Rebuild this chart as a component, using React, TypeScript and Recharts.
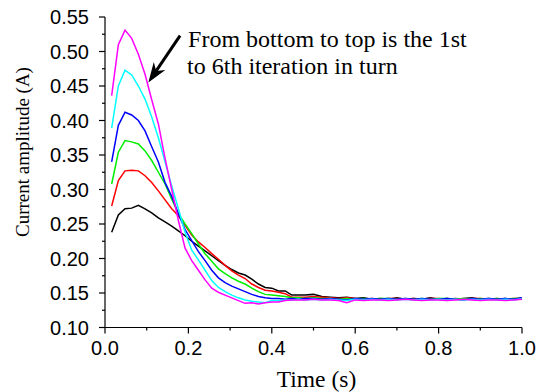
import React from 'react'
import { LineChart, Line, XAxis, YAxis, ReferenceLine } from 'recharts'

// time axis (s)
const times = [
  0.016, 0.032, 0.048, 0.064, 0.08, 0.096, 0.112, 0.128, 0.144, 0.16,
  0.176, 0.192, 0.208, 0.224, 0.24, 0.256, 0.272, 0.288, 0.304, 0.32,
  0.336, 0.352, 0.368, 0.384, 0.4, 0.416, 0.432, 0.448, 0.464, 0.48,
  0.5, 0.52, 0.54, 0.56, 0.58, 0.6, 0.62, 0.64, 0.66, 0.68,
  0.7, 0.72, 0.74, 0.76, 0.78, 0.8, 0.82, 0.84, 0.86, 0.88,
  0.9, 0.92, 0.94, 0.96, 0.98, 1.0,
]

// current amplitude (A), 1st to 6th iteration
const iter1 = [
  0.238, 0.263, 0.272, 0.273, 0.277, 0.272, 0.266, 0.259, 0.253, 0.247,
  0.240, 0.233, 0.225, 0.218, 0.211, 0.204, 0.197, 0.190, 0.184, 0.179,
  0.176, 0.170, 0.163, 0.158, 0.157, 0.153, 0.153, 0.147, 0.147, 0.147,
  0.148, 0.145, 0.144, 0.143, 0.144, 0.142, 0.143, 0.141, 0.142, 0.141,
  0.143, 0.141, 0.142, 0.141, 0.143, 0.141, 0.142, 0.141, 0.142, 0.143,
  0.141, 0.142, 0.141, 0.142, 0.141, 0.143,
]
const iter2 = [
  0.276, 0.313, 0.327, 0.328, 0.327, 0.320, 0.310, 0.298, 0.285, 0.272,
  0.262, 0.248, 0.234, 0.224, 0.216, 0.207, 0.199, 0.190, 0.182, 0.176,
  0.171, 0.163, 0.158, 0.154, 0.153, 0.151, 0.149, 0.144, 0.144, 0.144,
  0.145, 0.144, 0.143, 0.142, 0.143, 0.142, 0.141, 0.142, 0.141, 0.142,
  0.142, 0.141, 0.142, 0.141, 0.142, 0.142, 0.141, 0.142, 0.141, 0.142,
  0.142, 0.141, 0.142, 0.141, 0.142, 0.142,
]
const iter3 = [
  0.308, 0.354, 0.371, 0.369, 0.366, 0.356, 0.342, 0.325, 0.308, 0.286,
  0.265, 0.250, 0.236, 0.221, 0.207, 0.196, 0.185, 0.178, 0.172, 0.167,
  0.163, 0.157, 0.152, 0.148, 0.147, 0.146, 0.145, 0.143, 0.143, 0.142,
  0.143, 0.142, 0.142, 0.141, 0.142, 0.141, 0.142, 0.141, 0.142, 0.142,
  0.141, 0.142, 0.141, 0.142, 0.141, 0.142, 0.142, 0.141, 0.142, 0.141,
  0.142, 0.141, 0.142, 0.141, 0.142, 0.142,
]
const iter4 = [
  0.340, 0.393, 0.412, 0.408, 0.400, 0.385, 0.362, 0.340, 0.310, 0.290,
  0.265, 0.242, 0.226, 0.210, 0.197, 0.183, 0.172, 0.165, 0.160, 0.156,
  0.152, 0.148, 0.145, 0.143, 0.142, 0.142, 0.141, 0.142, 0.141, 0.142,
  0.142, 0.141, 0.142, 0.141, 0.140, 0.142, 0.141, 0.142, 0.141, 0.142,
  0.141, 0.142, 0.141, 0.142, 0.141, 0.141, 0.142, 0.141, 0.140, 0.142,
  0.141, 0.142, 0.141, 0.142, 0.141, 0.143,
]
const iter5 = [
  0.389, 0.450, 0.473, 0.466, 0.450, 0.431, 0.405, 0.375, 0.340, 0.305,
  0.272, 0.238, 0.212, 0.198, 0.183, 0.168, 0.158, 0.152, 0.147, 0.143,
  0.140, 0.138, 0.137, 0.136, 0.139, 0.139, 0.140, 0.140, 0.141, 0.140,
  0.141, 0.140, 0.141, 0.140, 0.139, 0.141, 0.140, 0.141, 0.140, 0.141,
  0.140, 0.141, 0.140, 0.141, 0.140, 0.141, 0.140, 0.141, 0.140, 0.141,
  0.140, 0.141, 0.140, 0.141, 0.140, 0.142,
]
const iter6 = [
  0.436, 0.510, 0.531, 0.519, 0.496, 0.467, 0.430, 0.395, 0.345, 0.300,
  0.255, 0.215, 0.197, 0.183, 0.169, 0.157, 0.151, 0.147, 0.143, 0.139,
  0.135, 0.136, 0.134, 0.136, 0.137, 0.137, 0.139, 0.140, 0.140, 0.140,
  0.141, 0.140, 0.140, 0.139, 0.136, 0.140, 0.139, 0.140, 0.140, 0.139,
  0.140, 0.141, 0.140, 0.139, 0.140, 0.140, 0.139, 0.140, 0.141, 0.140,
  0.139, 0.140, 0.140, 0.139, 0.140, 0.141,
]

const seriesKeys = ['i1', 'i2', 'i3', 'i4', 'i5', 'i6']
const seriesColors = ['#000000', '#ff0000', '#00ee00', '#0000ff', '#00ffff', '#ff00ff']

// major ticks get a label, the rest are minor
const xTicks = [0, 0.1, 0.2, 0.3, 0.4, 0.5, 0.6, 0.7, 0.8, 0.9, 1.0]
const xMajor = [0, 0.2, 0.4, 0.6, 0.8, 1.0]
const yTicks = [0.1, 0.125, 0.15, 0.175, 0.2, 0.225, 0.25, 0.275, 0.3, 0.325, 0.35, 0.375, 0.4, 0.425, 0.45, 0.475, 0.5, 0.525, 0.55]
const yMajor = [0.1, 0.15, 0.2, 0.25, 0.3, 0.35, 0.4, 0.45, 0.5, 0.55]

const noteLines = ['From bottom to top is the 1st', 'to 6th iteration in turn']
const arrowFrom = { x: 0.18, y: 0.523 }
const arrowTo = { x: 0.104, y: 0.455 }

const data = times.map((t, i) => ({
  t,
  i1: iter1[i],
  i2: iter2[i],
  i3: iter3[i],
  i4: iter4[i],
  i5: iter5[i],
  i6: iter6[i],
}))

const serif = '"Liberation Serif", "Times New Roman", serif'
const sans = '"Liberation Sans", Arial, sans-serif'

const isMajor = (list: number[], v: number) => list.some((m) => Math.abs(m - v) < 1e-6)

function XTick(props: any) {
  const { x, y, payload } = props
  const major = isMajor(xMajor, payload.value)
  return (
    <g>
      <line x1={x} y1={y} x2={x} y2={y + (major ? 6 : 3)} stroke="#000" strokeWidth={1.2} />
      {major && (
        <text x={x} y={y + 27.5} textAnchor="middle" style={{ fontFamily: sans, fontSize: 20 }} fill="#000">
          {payload.value.toFixed(1)}
        </text>
      )}
    </g>
  )
}

function YTick(props: any) {
  const { x, y, payload } = props
  const major = isMajor(yMajor, payload.value)
  return (
    <g>
      <line x1={x} y1={y} x2={x - (major ? 6 : 3)} y2={y} stroke="#000" strokeWidth={1.2} />
      {major && (
        <text x={x - 16} y={y + 7} textAnchor="end" style={{ fontFamily: sans, fontSize: 20 }} fill="#000">
          {payload.value.toFixed(2)}
        </text>
      )}
    </g>
  )
}

// arrow with note text, drawn from the segment end points
function ArrowNote(props: any) {
  const { x1, y1, x2, y2 } = props
  const ang = Math.atan2(y2 - y1, x2 - x1)
  const cos = Math.cos(ang)
  const sin = Math.sin(ang)
  const headLen = 20
  const half = 7
  const bx = x2 - headLen * cos
  const by = y2 - headLen * sin
  const nx = x2 - headLen * 0.7 * cos
  const ny = y2 - headLen * 0.7 * sin
  const px = -sin * half
  const py = cos * half
  return (
    <g>
      <line x1={x1} y1={y1} x2={nx} y2={ny} stroke="#000" strokeWidth={3} />
      <polygon
        points={`${x2},${y2} ${bx + px},${by + py} ${nx},${ny} ${bx - px},${by - py}`}
        fill="#000"
      />
      <text x={x1 + 8} y={y1 + 11} style={{ fontFamily: serif, fontSize: 24 }} fill="#000">
        {noteLines[0]}
      </text>
      <text x={x1 + 7} y={y1 + 38} style={{ fontFamily: serif, fontSize: 24 }} fill="#000">
        {noteLines[1]}
      </text>
    </g>
  )
}

export default function App() {
  return (
    <div style={{ position: 'absolute', left: 0, top: 0, width: 544, height: 392, background: '#fff' }}>
      <LineChart
        width={544}
        height={392}
        data={data}
        margin={{ top: 17, right: 22, bottom: 0, left: 0 }}
      >
        <XAxis
          dataKey="t"
          type="number"
          domain={[0, 1]}
          ticks={xTicks}
          interval={0}
          height={64.5}
          stroke="#000"
          strokeWidth={1.2}
          tickLine={false}
          tickSize={0}
          tickMargin={0}
          tick={<XTick />}
          label={{
            content: (p: any) => (
              <text
                x={p.viewBox.x + p.viewBox.width / 2 + 3}
                y={p.viewBox.y + 59}
                textAnchor="middle"
                style={{ fontFamily: serif, fontSize: 23.5 }}
                fill="#000"
              >
                Time (s)
              </text>
            ),
          }}
        />
        <YAxis
          type="number"
          domain={[0.1, 0.55]}
          ticks={yTicks}
          interval={0}
          width={105}
          stroke="#000"
          strokeWidth={1.2}
          tickLine={false}
          tickSize={0}
          tickMargin={0}
          tick={<YTick />}
          allowDataOverflow
          label={{
            content: () => (
              <text
                x={25}
                y={152}
                transform="rotate(-90 25 152)"
                textAnchor="middle"
                dominantBaseline="middle"
                style={{ fontFamily: serif, fontSize: 19 }}
                fill="#000"
              >
                Current amplitude (A)
              </text>
            ),
          }}
        />
        {seriesKeys.map((k, i) => (
          <Line
            key={k}
            type="linear"
            dataKey={k}
            stroke={seriesColors[i]}
            strokeWidth={1.5}
            dot={false}
            isAnimationActive={false}
          />
        ))}
        <ReferenceLine segment={[arrowFrom, arrowTo]} shape={ArrowNote} />
      </LineChart>
    </div>
  )
}
